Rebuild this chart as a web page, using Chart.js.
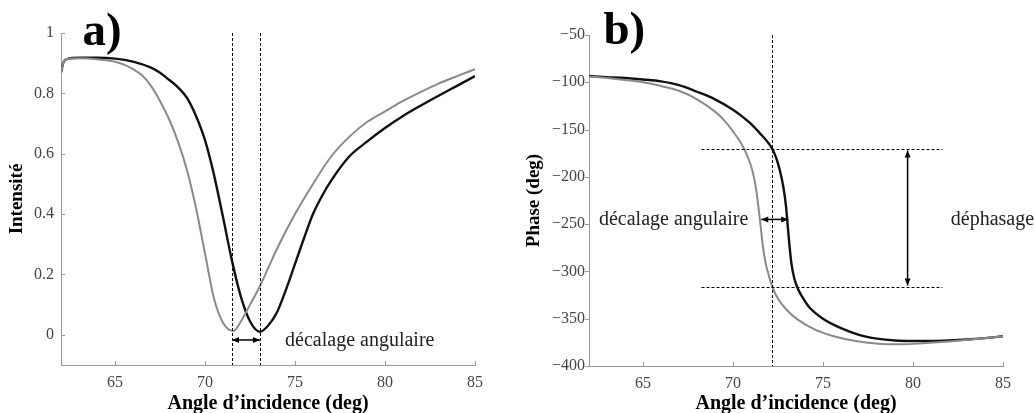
<!DOCTYPE html>
<html>
<head>
<meta charset="utf-8">
<script src="https://cdn.jsdelivr.net/npm/chart.js@4"></script>
<style>
body { margin: 0; background: #fff; }
canvas { position: absolute; top: 0; }
</style>
</head>
<body>
<canvas id="grafA" width="517" height="413" style="left:0"></canvas>
<canvas id="grafB" width="518" height="413" style="left:517px"></canvas>
<script>
// a) intensite
const angGrisA = [62, 62.15, 62.4, 63, 64, 65, 65.5, 66, 66.5, 67, 67.5, 68, 68.5, 69, 69.5, 70, 70.5, 71, 71.57, 72, 72.5, 73, 73.5, 74, 75, 76, 77, 78, 79, 80, 81, 82, 83, 84, 85];
const intGrisA = [0.87, 0.905, 0.915, 0.916, 0.913, 0.905, 0.895, 0.88, 0.86, 0.825, 0.775, 0.715, 0.64, 0.545, 0.42, 0.27, 0.12, 0.04, 0.013, 0.045, 0.1, 0.155, 0.22, 0.285, 0.4, 0.5, 0.59, 0.655, 0.705, 0.74, 0.775, 0.805, 0.833, 0.857, 0.88];
const angNoirA = [62, 62.15, 62.4, 63, 64, 65, 66, 67, 67.5, 68, 68.5, 69, 69.5, 70, 70.5, 71, 71.5, 72, 72.5, 73.05, 73.5, 74, 74.5, 75, 75.5, 76, 76.5, 77, 78, 79, 80, 81, 82, 83, 84, 85];
const intNoirA = [0.87, 0.905, 0.915, 0.918, 0.918, 0.915, 0.905, 0.885, 0.868, 0.845, 0.82, 0.785, 0.725, 0.645, 0.53, 0.39, 0.245, 0.125, 0.045, 0.01, 0.03, 0.075, 0.15, 0.235, 0.32, 0.4, 0.46, 0.51, 0.59, 0.64, 0.685, 0.725, 0.76, 0.793, 0.825, 0.857];

// b) phase
const angGrisB = [62, 63, 64, 65, 66, 67, 68, 69, 69.5, 70, 70.5, 70.8, 71.1, 71.3, 71.45, 71.55, 71.65, 71.8, 72, 72.18, 72.5, 73, 73.6, 74.5, 75.5, 76.5, 77.5, 78.5, 79.5, 80.5, 82, 83.5, 85];
const phaseGrisB = [-94, -95.5, -97.5, -100, -104, -109, -118, -131, -140, -152, -166, -178, -195, -215, -238, -255, -272, -290, -305, -316, -329, -341, -351, -361, -368, -372.5, -375.5, -377, -377, -376, -374, -371.5, -368.6];
const angNoirB = [62, 63, 64, 65, 66, 67, 68, 69, 70, 70.5, 71, 71.5, 72, 72.2, 72.4, 72.6, 72.8, 72.95, 73.05, 73.15, 73.25, 73.4, 73.6, 73.85, 74.2, 75, 76, 77, 78, 79, 80, 81, 82, 83, 84, 85];
const phaseNoirB = [-93.4, -94.5, -95.5, -97, -99, -103, -110, -118, -129, -136, -144, -154, -165, -171, -180, -193, -211, -232, -254, -275, -292, -307, -318, -327, -337, -350, -360, -367, -371, -373, -373.5, -373.5, -373, -372, -370.5, -368.6];

const ticksAngle = [65, 70, 75, 80, 85];
const ticksIntensite = [0, 0.2, 0.4, 0.6, 0.8, 1];
const ticksPhase = [-400, -350, -300, -250, -200, -150, -100, -50];

const serif = '"Liberation Serif", "Times New Roman", serif';
const gris = '#8a8a8a';
const noir = '#111';

function points(xs, ys) {
  return xs.map((v, i) => ({ x: v, y: ys[i] }));
}

function fleche(ctx, x0, y0, x1, y1) {
  const a = Math.atan2(y1 - y0, x1 - x0);
  ctx.beginPath();
  ctx.moveTo(x0, y0);
  ctx.lineTo(x1, y1);
  ctx.stroke();
  [[x1, y1, a], [x0, y0, a + Math.PI]].forEach(([px, py, ang]) => {
    ctx.beginPath();
    ctx.moveTo(px, py);
    ctx.lineTo(px - 7 * Math.cos(ang) + 3 * Math.sin(ang), py - 7 * Math.sin(ang) - 3 * Math.cos(ang));
    ctx.lineTo(px - 7 * Math.cos(ang) - 3 * Math.sin(ang), py - 7 * Math.sin(ang) + 3 * Math.cos(ang));
    ctx.closePath();
    ctx.fill();
  });
}

// traits pointilles, fleches, textes
const annotPlugin = {
  id: 'annot',
  afterDatasetsDraw(chart, args, opts) {
    const { ctx, chartArea: ca, scales: { x, y } } = chart;
    ctx.save();
    ctx.strokeStyle = '#000';
    ctx.fillStyle = '#000';
    ctx.lineWidth = 1;
    ctx.setLineDash([3, 2]);
    (opts.vlines || []).forEach(v => {
      const px = Math.round(x.getPixelForValue(v)) + 0.5;
      ctx.beginPath(); ctx.moveTo(px, ca.top); ctx.lineTo(px, ca.bottom); ctx.stroke();
    });
    (opts.hlines || []).forEach(h => {
      const py = Math.round(y.getPixelForValue(h.y)) + 0.5;
      ctx.beginPath(); ctx.moveTo(x.getPixelForValue(h.x0), py); ctx.lineTo(x.getPixelForValue(h.x1), py); ctx.stroke();
    });
    ctx.setLineDash([]);
    ctx.lineWidth = 1.5;
    (opts.arrows || []).forEach(f => {
      fleche(ctx, x.getPixelForValue(f.x0), y.getPixelForValue(f.y0), x.getPixelForValue(f.x1), y.getPixelForValue(f.y1));
    });
    ctx.fillStyle = '#222';
    ctx.font = '20px ' + serif;
    ctx.textBaseline = 'middle';
    (opts.texts || []).forEach(t => {
      ctx.textAlign = t.align || 'left';
      ctx.fillText(t.text, x.getPixelForValue(t.x), y.getPixelForValue(t.y));
    });
    if (opts.lettre) {
      ctx.fillStyle = '#000';
      ctx.font = 'bold 47px ' + serif;
      ctx.textAlign = 'left';
      ctx.textBaseline = 'alphabetic';
      ctx.fillText(opts.lettre.text, x.getPixelForValue(opts.lettre.x), y.getPixelForValue(opts.lettre.y));
    }
    ctx.restore();
  }
};

// petites graduations
const graduPlugin = {
  id: 'gradu',
  afterDraw(chart, args, opts) {
    const { ctx, chartArea: ca, scales: { x, y } } = chart;
    ctx.save();
    ctx.strokeStyle = '#999';
    ctx.lineWidth = 1;
    x.ticks.forEach(t => {
      const px = Math.round(x.getPixelForValue(t.value)) + 0.5;
      ctx.beginPath(); ctx.moveTo(px, ca.bottom); ctx.lineTo(px, ca.bottom - 4); ctx.stroke();
    });
    const d = opts.yOut ? -4 : 4;
    y.ticks.forEach(t => {
      const py = Math.round(y.getPixelForValue(t.value)) + 0.5;
      ctx.beginPath(); ctx.moveTo(ca.left, py); ctx.lineTo(ca.left + d, py); ctx.stroke();
    });
    ctx.restore();
  }
};

function options(cfg) {
  return {
    responsive: false,
    animation: false,
    layout: { padding: { top: cfg.top, right: cfg.right, left: 0, bottom: 0 } },
    plugins: {
      legend: { display: false },
      tooltip: { enabled: false },
      annot: cfg.annot,
      gradu: { yOut: cfg.yOut }
    },
    elements: { point: { radius: 0 } },
    scales: {
      x: {
        type: 'linear',
        min: 62, max: 85,
        afterFit: s => { s.height = cfg.xh; },
        afterBuildTicks: s => { s.ticks = ticksAngle.map(v => ({ value: v })); },
        grid: { display: false, drawTicks: false },
        border: { display: true, color: '#999', width: 1 },
        ticks: { color: '#444', padding: 8, font: { family: serif, size: 16 } },
        title: { display: true, text: 'Angle d\u2019incidence (deg)', color: '#000', padding: { top: 0, bottom: -3 }, font: { family: serif, size: 20, weight: 'bold' } }
      },
      y: {
        min: cfg.ymin, max: cfg.ymax,
        afterFit: s => { s.width = cfg.yw; },
        afterBuildTicks: s => { s.ticks = cfg.yticks.map(v => ({ value: v })); },
        grid: { display: false, drawTicks: false },
        border: { display: true, color: '#999', width: 1 },
        ticks: { color: '#444', padding: cfg.ypad, font: { family: serif, size: 16 }, callback: v => String(v).replace('-', '\u2212') },
        title: { display: true, text: cfg.ytitle, color: '#000', padding: { top: 6, bottom: 0 }, font: { family: serif, size: 19, weight: 'bold' } }
      }
    }
  };
}

function datasets(g, n) {
  return [
    { data: g, borderColor: gris, borderWidth: 2, cubicInterpolationMode: 'monotone', fill: false },
    { data: n, borderColor: noir, borderWidth: 2.4, cubicInterpolationMode: 'monotone', fill: false }
  ];
}

new Chart('grafA', {
  type: 'line',
  data: { datasets: datasets(points(angGrisA, intGrisA), points(angNoirA, intNoirA)) },
  options: options({
    top: 33, right: 42, xh: 48, yw: 61, ypad: 7, ymin: -0.1, ymax: 1, yticks: ticksIntensite, ytitle: 'Intensité', yOut: false,
    annot: {
      vlines: [71.5, 73.05],
      arrows: [{ x0: 71.5, y0: -0.017, x1: 73.05, y1: -0.017 }],
      texts: [{ text: 'décalage angulaire', x: 74.45, y: -0.02 }],
      lettre: { text: 'a)', x: 63.2, y: 0.96 }
    }
  }),
  plugins: [annotPlugin, graduPlugin]
});

new Chart('grafB', {
  type: 'line',
  data: { datasets: datasets(points(angGrisB, phaseGrisB), points(angNoirB, phaseNoirB)) },
  options: options({
    top: 35, right: 32, xh: 47, yw: 72, ypad: 4, ymin: -400, ymax: -50, yticks: ticksPhase, ytitle: 'Phase (deg)', yOut: true,
    annot: {
      vlines: [72.18],
      hlines: [{ y: -171, x0: 68.25, x1: 81.64 }, { y: -316, x0: 68.25, x1: 81.64 }],
      arrows: [{ x0: 79.7, y0: -172, x1: 79.7, y1: -315 }, { x0: 71.57, y0: -245, x1: 73.07, y1: -245 }],
      texts: [
        { text: 'décalage angulaire', x: 70.85, y: -245, align: 'right' },
        { text: 'déphasage', x: 82.1, y: -245 }
      ],
      lettre: { text: 'b)', x: 62.8, y: -60 }
    }
  }),
  plugins: [annotPlugin, graduPlugin]
});
</script>
</body>
</html>
